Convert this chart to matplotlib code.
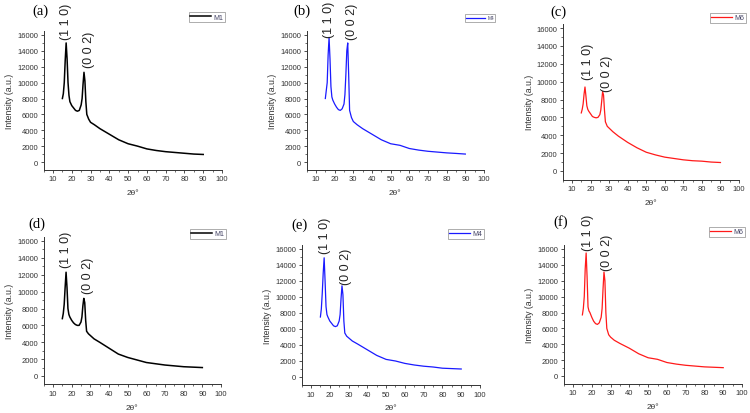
import matplotlib
matplotlib.use('Agg')
import matplotlib.pyplot as plt

plt.rcParams['font.family'] = 'Liberation Sans'

W, H = 750, 414

# 2theta grid shared by all patterns
two_theta = [15, 15.5, 16, 16.5, 17, 17.5, 18, 18.5, 19, 20, 21, 22, 23, 24, 25,
             25.5, 26, 26.5, 27, 27.5, 28, 29, 30, 32, 35, 40, 45, 50, 55, 60,
             65, 70, 75, 80, 85, 90]

# intensities (a.u.)
m1_a = [8000, 8600, 10000, 12800, 15000, 13000, 10000, 8400, 7600, 7100, 6800, 6500,
        6400, 6500, 7200, 8000, 9800, 11300, 10200, 7600, 6000, 5400, 5000, 4700,
        4200, 3500, 2800, 2300, 2000, 1650, 1450, 1300, 1200, 1100, 1000, 950]
m4_b = [8000, 9000, 10000, 13500, 15700, 13000, 9500, 8200, 7800, 7300, 6900, 6600,
        6500, 6700, 7300, 8500, 11000, 14000, 15000, 11000, 6500, 5600, 5100, 4700,
        4200, 3500, 2800, 2300, 2100, 1700, 1500, 1350, 1250, 1150, 1080, 1000]
m6_c = [6500, 6900, 7500, 8600, 9400, 8400, 7300, 6900, 6700, 6400, 6100, 6000,
        5950, 6000, 6300, 6800, 7800, 8900, 8500, 6800, 5500, 5000, 4800, 4400,
        3900, 3200, 2600, 2100, 1800, 1550, 1400, 1250, 1150, 1100, 1000, 950]
m1_d = [6800, 7400, 8500, 10500, 12300, 10500, 8000, 7300, 7000, 6600, 6300, 6100,
        6000, 6000, 6400, 7000, 8300, 9200, 8700, 6600, 5300, 5000, 4800, 4400,
        4000, 3300, 2600, 2200, 1900, 1600, 1450, 1300, 1200, 1100, 1050, 1000]
m4_e = [7500, 8500, 10500, 13000, 14900, 12000, 8800, 7800, 7500, 7000, 6700, 6400,
        6300, 6400, 7000, 7800, 9800, 11400, 10300, 7000, 5500, 5100, 4900, 4500,
        4100, 3400, 2700, 2200, 2000, 1700, 1500, 1350, 1250, 1100, 1050, 1000]
m6_f = [7700, 8500, 10000, 13500, 15500, 12500, 8700, 8200, 8000, 7400, 6900, 6600,
        6500, 6700, 7400, 8500, 11000, 13100, 12000, 8000, 6000, 5200, 4900, 4500,
        4100, 3500, 2800, 2300, 2100, 1700, 1500, 1350, 1250, 1150, 1100, 1050]

panel_tags = ['(a)', '(b)', '(c)', '(d)', '(e)', '(f)']
samples = ['M1', 'M4', 'M6', 'M1', 'M4', 'M6']
series = [m1_a, m4_b, m6_c, m1_d, m4_e, m6_f]
colors = ['black', '#1a1aff', '#ff1a1a', 'black', '#1a1aff', '#ff1a1a']

# peak label anchors: (x110, y110, x002, y002)
peak_labels = [(17.0, 15500, 29.0, 12000),
               (17.1, 15700, 29.2, 15500),
               (18.8, 10300, 28.6, 9000),
               (17.1, 12900, 28.7, 9800),
               (17.5, 15500, 28.5, 11600),
               (17.8, 15900, 28.3, 13300)]

# layout in pixels: x of tick 10, x of tick 100, y of tick 0, y of tick 16000
frames = [(53, 222, 163, 36), (316, 484, 163, 36), (572, 739, 172, 29),
          (53, 221, 377, 242), (311, 480, 378, 250), (573, 742, 377, 250)]
tag_pos = [(40, 11), (302, 11), (558, 12), (37, 224), (300, 225), (561, 222)]
legend_pos = [(207, 18), (480, 19), (728, 19), (208, 235), (466, 235), (727, 233)]

fig = plt.figure(figsize=(W / 100, H / 100), dpi=100)

for i in range(6):
    x10, x100, y0, y16 = frames[i]
    sx = (x100 - x10) / 90.0
    sy = (y0 - y16) / 16000.0
    left = x10 - 5 * sx
    top = y16 - 500 * sy
    bottom = y0 + 1000 * sy
    ax = fig.add_axes([left / W, (H - bottom) / H, (x100 - left) / W, (bottom - top) / H])

    lw = 1.1 if colors[i] == 'black' else 0.9
    ax.plot(two_theta, series[i], color=colors[i], lw=lw, label=samples[i])
    ax.set_xlim(5, 100)
    ax.set_ylim(-1000, 16500)
    ax.set_xticks(range(10, 101, 10))
    ax.set_xticks(range(5, 101, 10), minor=True)
    ax.set_yticks(range(0, 16001, 2000))
    ax.set_yticks(range(1000, 16001, 2000), minor=True)
    ax.spines['top'].set_visible(False)
    ax.spines['right'].set_visible(False)
    for s in ('left', 'bottom'):
        ax.spines[s].set_linewidth(0.7)
        ax.spines[s].set_color('#333333')
    ax.tick_params(which='major', direction='out', length=2.5, width=0.6,
                   labelsize=5.5, colors='#333333', pad=1.5)
    ax.tick_params(which='minor', direction='out', length=1.3, width=0.5, colors='#333333')
    ax.set_xlabel('2θ°', fontsize=6, labelpad=5, color='#333333')
    ax.set_ylabel('Intensity (a.u.)', fontsize=6.3, labelpad=2, color='#333333')

    x1, y1, x2, y2 = peak_labels[i]
    ax.text(x1, y1, '(1 1 0)', rotation=90, ha='center', va='bottom',
            fontsize=9, clip_on=False, color='#222222')
    ax.text(x2, y2, '(0 0 2)', rotation=90, ha='center', va='bottom',
            fontsize=9, clip_on=False, color='#222222')

    lx, ly = legend_pos[i]
    leg = ax.legend(loc='center', bbox_to_anchor=(lx / W, 1 - ly / H),
                    bbox_transform=fig.transFigure, fontsize=3.5 if i == 1 else 5,
                    frameon=True, fancybox=False, edgecolor='#888888',
                    handlelength=4 if i == 1 else 3, handletextpad=0.4,
                    borderpad=0.25, borderaxespad=0)
    leg.get_frame().set_linewidth(0.6)
    for t in leg.get_texts():
        t.set_color('#444466')

    tx, ty = tag_pos[i]
    fig.text(tx / W, 1 - ty / H, panel_tags[i], ha='center', va='center',
             fontsize=10.5, family='Liberation Serif')

fig.savefig('out.png', dpi=100)
